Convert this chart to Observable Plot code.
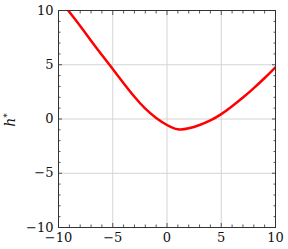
<!DOCTYPE html>
<html><head><meta charset="utf-8">
<script src="https://cdn.jsdelivr.net/npm/d3@7"></script>
<script src="https://cdn.jsdelivr.net/npm/@observablehq/plot@0.6"></script>
<style>
body{margin:0;background:#fff}
</style>
</head><body><div id="chart"></div>
<script>
const curveX = [-9.1, -8, -7, -6, -5, -4, -3, -2, -1, 0, 1, 2, 3, 4, 5, 6, 7, 8, 9, 10];
const curveY = [10, 8.57, 7.22, 5.9, 4.6, 3.3, 2.05, 0.95, 0.1, -0.55, -0.95, -0.86, -0.55, -0.13, 0.45, 1.18, 1.98, 2.85, 3.78, 4.77];
const majorTicks = [-10, -5, 0, 5, 10];
const gridTicks = [-5, 0, 5];
const minorTicks = [-9,-8,-7,-6,-4,-3,-2,-1,1,2,3,4,6,7,8,9];
const yLabel = "h";

const FONT = "DejaVu Serif";
const data = curveX.map((x, i) => ({x, y: curveY[i]}));
const tickStroke = "#555";
const tickAxes = (ticks, size) => [
  Plot.axisX(ticks, {anchor: "bottom", tickSize: -size, tickFormat: () => "", label: null, stroke: tickStroke}),
  Plot.axisX(ticks, {anchor: "top", tickSize: -size, tickFormat: () => "", label: null, stroke: tickStroke}),
  Plot.axisY(ticks, {anchor: "left", tickSize: -size, tickFormat: () => "", label: null, stroke: tickStroke}),
  Plot.axisY(ticks, {anchor: "right", tickSize: -size, tickFormat: () => "", label: null, stroke: tickStroke})
];

const chart = Plot.plot({
  width: 288, height: 249,
  marginLeft: 58, marginRight: 13, marginTop: 10, marginBottom: 22,
  style: {fontFamily: FONT, fontSize: "13px", background: "white", color: "#111"},
  x: {domain: [-10, 10]},
  y: {domain: [-10, 10]},
  marks: [
    Plot.gridX(gridTicks, {stroke: "#d4d4d4", strokeOpacity: 1, strokeWidth: 1}),
    Plot.gridY(gridTicks, {stroke: "#d4d4d4", strokeOpacity: 1, strokeWidth: 1}),
    ...tickAxes(minorTicks, 2.5),
    ...tickAxes(gridTicks, 4),
    Plot.axisX(majorTicks, {anchor: "bottom", tickSize: 0, tickPadding: 5, label: null, fontSize: 13}),
    Plot.axisY(majorTicks, {anchor: "left", tickSize: 0, tickPadding: 5, label: null, fontSize: 13}),
    Plot.line(data, {x: "x", y: "y", stroke: "#ff0000", strokeWidth: 2.5, curve: "natural", clip: true}),
    Plot.frame({stroke: "#333", strokeWidth: 1})
  ]
});
const svg = d3.select(chart);
svg.selectAll("text").style("font-family", FONT).style("font-size", "13px");
const t = svg.append("text")
  .attr("transform", "translate(15,120) rotate(-90)")
  .attr("text-anchor", "middle")
  .attr("fill", "#111")
  .style("font-family", FONT)
  .style("font-size", "14px");
t.append("tspan").attr("font-style", "italic").text(yLabel);
t.append("tspan").style("font-size", "9px").attr("dy", -5).text("*");
document.getElementById("chart").appendChild(chart);
</script>
</body></html>
